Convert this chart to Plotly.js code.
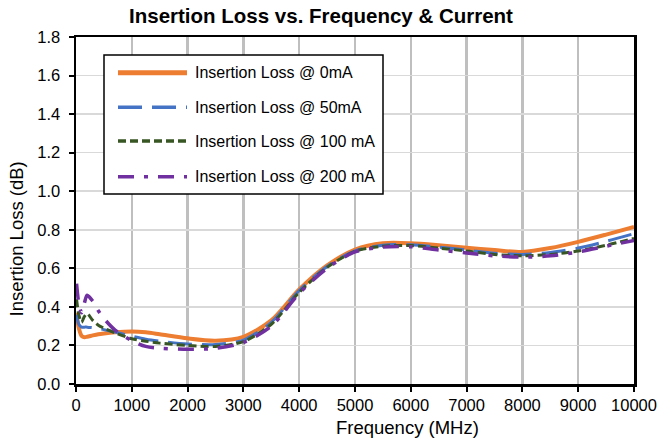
<!DOCTYPE html>
<html>
<head>
<meta charset="utf-8">
<script src="https://cdn.plot.ly/plotly-3.0.1.min.js"></script>
<style>html,body{margin:0;padding:0;background:#fff;}#chart{width:660px;height:442px;}</style>
</head>
<body>
<div id="chart"></div>
<script>
// ---- data ----
var freqMHz = [10,50,100,150,200,300,400,500,700,1000,1250,1500,2000,2500,3000,3500,4000,4500,5000,5500,6000,6500,7000,7500,8000,8500,9000,9500,10000];
var il0mA   = [0.37,0.29,0.25,0.243,0.245,0.252,0.258,0.262,0.268,0.272,0.268,0.258,0.237,0.225,0.245,0.33,0.49,0.615,0.697,0.73,0.73,0.72,0.707,0.695,0.685,0.705,0.737,0.775,0.815];
var il50mA  = [0.36,0.31,0.295,0.295,0.295,0.292,0.288,0.282,0.27,0.248,0.232,0.222,0.208,0.205,0.228,0.32,0.485,0.61,0.69,0.72,0.722,0.71,0.695,0.678,0.672,0.682,0.705,0.74,0.78];
var il100mA = [0.44,0.36,0.32,0.35,0.365,0.33,0.305,0.29,0.265,0.235,0.222,0.212,0.2,0.195,0.22,0.31,0.475,0.605,0.688,0.715,0.718,0.705,0.69,0.672,0.665,0.672,0.69,0.72,0.755];
var il200mA = [0.52,0.42,0.37,0.42,0.46,0.43,0.38,0.34,0.28,0.225,0.195,0.186,0.18,0.185,0.215,0.30,0.47,0.60,0.685,0.71,0.712,0.695,0.68,0.665,0.658,0.665,0.685,0.715,0.745];
var seriesNames = ["Insertion Loss @ 0mA","Insertion Loss @ 50mA","Insertion Loss @ 100 mA","Insertion Loss @ 200 mA"];
var chartTitle = "Insertion Loss vs. Frequency & Current";
var xTitle = "Frequency (MHz)";
var yTitle = "Insertion Loss (dB)";

// ---- styles ----
var colors = ["#ED7D31","#4472C4","#375623","#7030A0"];
var widths = [4,3,3,3.5];
var dashes = ["solid","24px,10px","8px,4px","16px,10px,4px,10px"];
var seriesY = [il0mA, il50mA, il100mA, il200mA];

var W = 660, H = 442;
var L = 76, R = 634, T = 37, B = 384;
function px(x){ return (x - L) / (R - L); }
function py(y){ return (B - y) / (B - T); }

var traces = seriesY.map(function(ys, i){
  return {
    x: freqMHz, y: ys, type: "scatter", mode: "lines", name: seriesNames[i],
    line: {color: colors[i], width: widths[i], dash: dashes[i], shape: "spline", smoothing: 0.8},
    showlegend: false, hoverinfo: "skip"
  };
});

var font = "Liberation Sans, Arial, sans-serif";
var shapes = [{type:"rect", xref:"paper", yref:"paper", x0:px(104), x1:px(383), y0:py(194), y1:py(55),
  line:{color:"#000", width:1.5}, fillcolor:"#fff", layer:"above"}];
var annotations = [];
var rowY = [72.7, 107.3, 141, 176.7];
for (var i = 0; i < 4; i++) {
  shapes.push({type:"line", xref:"paper", yref:"paper", x0:px(118), x1:px(187), y0:py(rowY[i]), y1:py(rowY[i]),
    line:{color:colors[i], width: i===0 ? 5 : 3.5, dash: dashes[i]}, layer:"above"});
  annotations.push({xref:"paper", yref:"paper", x:px(193), y:py(rowY[i]), xanchor:"left", yanchor:"middle",
    text: seriesNames[i], showarrow:false, font:{family:font, size:16, color:"#000"}});
}
annotations.push({xref:"paper", yref:"paper", x:px(407), y:py(427), xanchor:"center", yanchor:"middle",
  text: xTitle, showarrow:false, font:{family:font, size:18.5, color:"#000"}});
annotations.push({xref:"paper", yref:"paper", x:px(16), y:py(239.5), xanchor:"center", yanchor:"middle",
  text: yTitle, textangle:-90, showarrow:false, font:{family:font, size:18.5, color:"#000"}});

var layout = {
  width: W, height: H,
  margin: {l: L, r: W - R, t: T, b: H - B, pad: 0},
  paper_bgcolor: "#fff", plot_bgcolor: "#fff",
  font: {family: font, color: "#000"},
  title: {text: "<b>" + chartTitle + "</b>", font: {family: font, size: 20.5, color: "#000"},
          xref: "container", yref: "container", x: 321/W, y: 1 - 16/H, xanchor: "center", yanchor: "middle"},
  xaxis: {range: [0, 10000], dtick: 1000, tick0: 0, tickformat: "d",
          showgrid: true, gridcolor: "#bfbfbf", gridwidth: 2.5,
          showline: true, linecolor: "#000", linewidth: 2.5, mirror: true,
          ticks: "outside", ticklen: 5, tickwidth: 2, tickcolor: "#000",
          tickfont: {family: font, size: 16.5, color: "#000"}, zeroline: false, fixedrange: true},
  yaxis: {range: [0, 1.8], dtick: 0.2, tick0: 0, tickformat: ".1f",
          showgrid: true, gridcolor: "#d9d9d9", gridwidth: 1.5,
          showline: true, linecolor: "#000", linewidth: 2.5, mirror: true,
          ticks: "outside", ticklen: 5, tickwidth: 2, tickcolor: "#000", ticklabelstandoff: 5,
          tickfont: {family: font, size: 16.5, color: "#000"}, zeroline: false, fixedrange: true},
  shapes: shapes, annotations: annotations, showlegend: false
};

Plotly.newPlot("chart", traces, layout, {staticPlot: true, displayModeBar: false});
</script>
</body>
</html>
